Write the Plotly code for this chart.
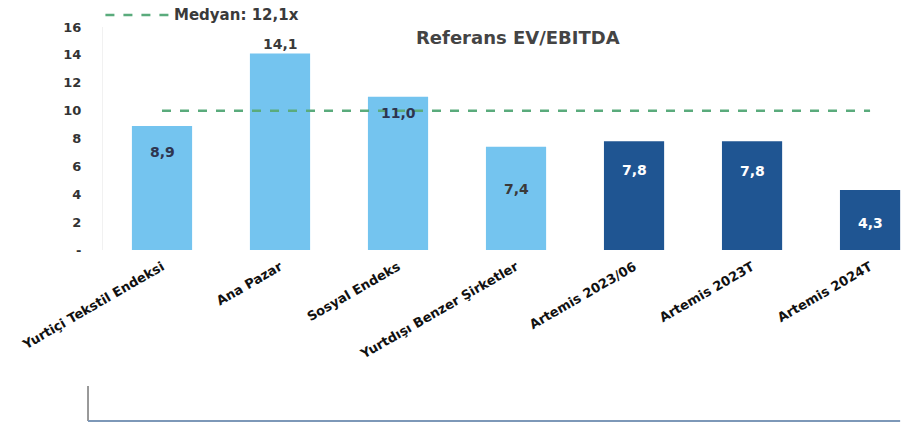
import plotly.graph_objects as go

# Reference EV/EBITDA multiples
categories = [
    "Yurtiçi Tekstil Endeksi",
    "Ana Pazar",
    "Sosyal Endeks",
    "Yurtdışı Benzer Şirketler",
    "Artemis 2023/06",
    "Artemis 2023T",
    "Artemis 2024T",
]
multiples = [8.9, 14.1, 11.0, 7.4, 7.8, 7.8, 4.3]
median_value = 10.0
median_label = "Medyan: 12,1x"
title_text = "Referans EV/EBITDA"
y_ticks = [0, 2, 4, 6, 8, 10, 12, 14, 16]
y_tick_text = ["-", "2", "4", "6", "8", "10", "12", "14", "16"]

LIGHT = "#74c4ef"
DARK = "#1f5592"
GREEN = "#5aab7c"
FONT = "DejaVu Sans"

bar_colors = [LIGHT, LIGHT, LIGHT, LIGHT, DARK, DARK, DARK]
label_colors = ["#2e3550", "#3a3a3a", "#2e3550", "#3a3a3a", "#ffffff", "#ffffff", "#ffffff"]
label_shift = [-26, 9, -16, -42, -29, -30, -33]

fig = go.Figure()
fig.add_trace(go.Bar(
    x=categories, y=multiples,
    marker=dict(color=bar_colors, line=dict(width=0)),
    showlegend=False, hoverinfo="x+y",
))
fig.add_trace(go.Scatter(
    x=categories, y=[median_value] * len(categories),
    mode="lines", name=median_label, showlegend=False,
    line=dict(color=GREEN, width=2.5, dash="dash"),
))

for cat, val, col, sh in zip(categories, multiples, label_colors, label_shift):
    fig.add_annotation(
        x=cat, y=val, yshift=sh, showarrow=False,
        text=f"{val:.1f}".replace(".", ","),
        font=dict(family=FONT, size=14, color=col, weight="bold"),
    )

# key for the median line, drawn above the plot
fig.add_shape(type="line", xref="paper", yref="paper",
              x0=0.003, x1=0.083, y0=1.054, y1=1.054,
              line=dict(color=GREEN, width=2.5, dash="dash"))
fig.add_annotation(
    xref="paper", yref="paper", x=0.086, y=1.054, xanchor="left", yanchor="middle",
    showarrow=False, text=median_label,
    font=dict(family=FONT, size=15, color="#3a3a3a", weight="bold"),
)

fig.add_annotation(
    xref="paper", yref="paper", x=0.515, y=0.955, xanchor="center", yanchor="middle",
    showarrow=False, text=title_text,
    font=dict(family=FONT, size=18, color="#444444", weight="bold"),
)

# frame of the panel below the chart
fig.add_shape(type="line", xref="paper", yref="paper",
              x0=-0.0186, x1=-0.0186, y0=-0.61, y1=-0.767,
              line=dict(color="#777777", width=1.5))
fig.add_shape(type="line", xref="paper", yref="paper",
              x0=-0.0186, x1=0.989, y0=-0.767, y1=-0.767,
              line=dict(color="#7d98b8", width=2))

fig.update_layout(
    width=909, height=426,
    margin=dict(l=103, r=0, t=27, b=176, autoexpand=False),
    paper_bgcolor="white", plot_bgcolor="white",
    bargap=0.49,
    showlegend=False,
    font=dict(family=FONT, color="#333333"),
    xaxis=dict(
        range=[-0.5, 6.33], showgrid=False, showline=False, zeroline=False,
        tickangle=-30, ticks="", ticklabelstandoff=6,
        tickfont=dict(family=FONT, size=13, color="#111111", weight="bold"),
    ),
    yaxis=dict(
        range=[0, 16], tickvals=y_ticks, ticktext=y_tick_text,
        showgrid=False, zeroline=False, showline=True, linecolor="#f1f1f1",
        ticks="", ticklabelstandoff=18,
        tickfont=dict(family=FONT, size=13, color="#333333", weight="bold"),
    ),
)

fig.write_html("out.html")
